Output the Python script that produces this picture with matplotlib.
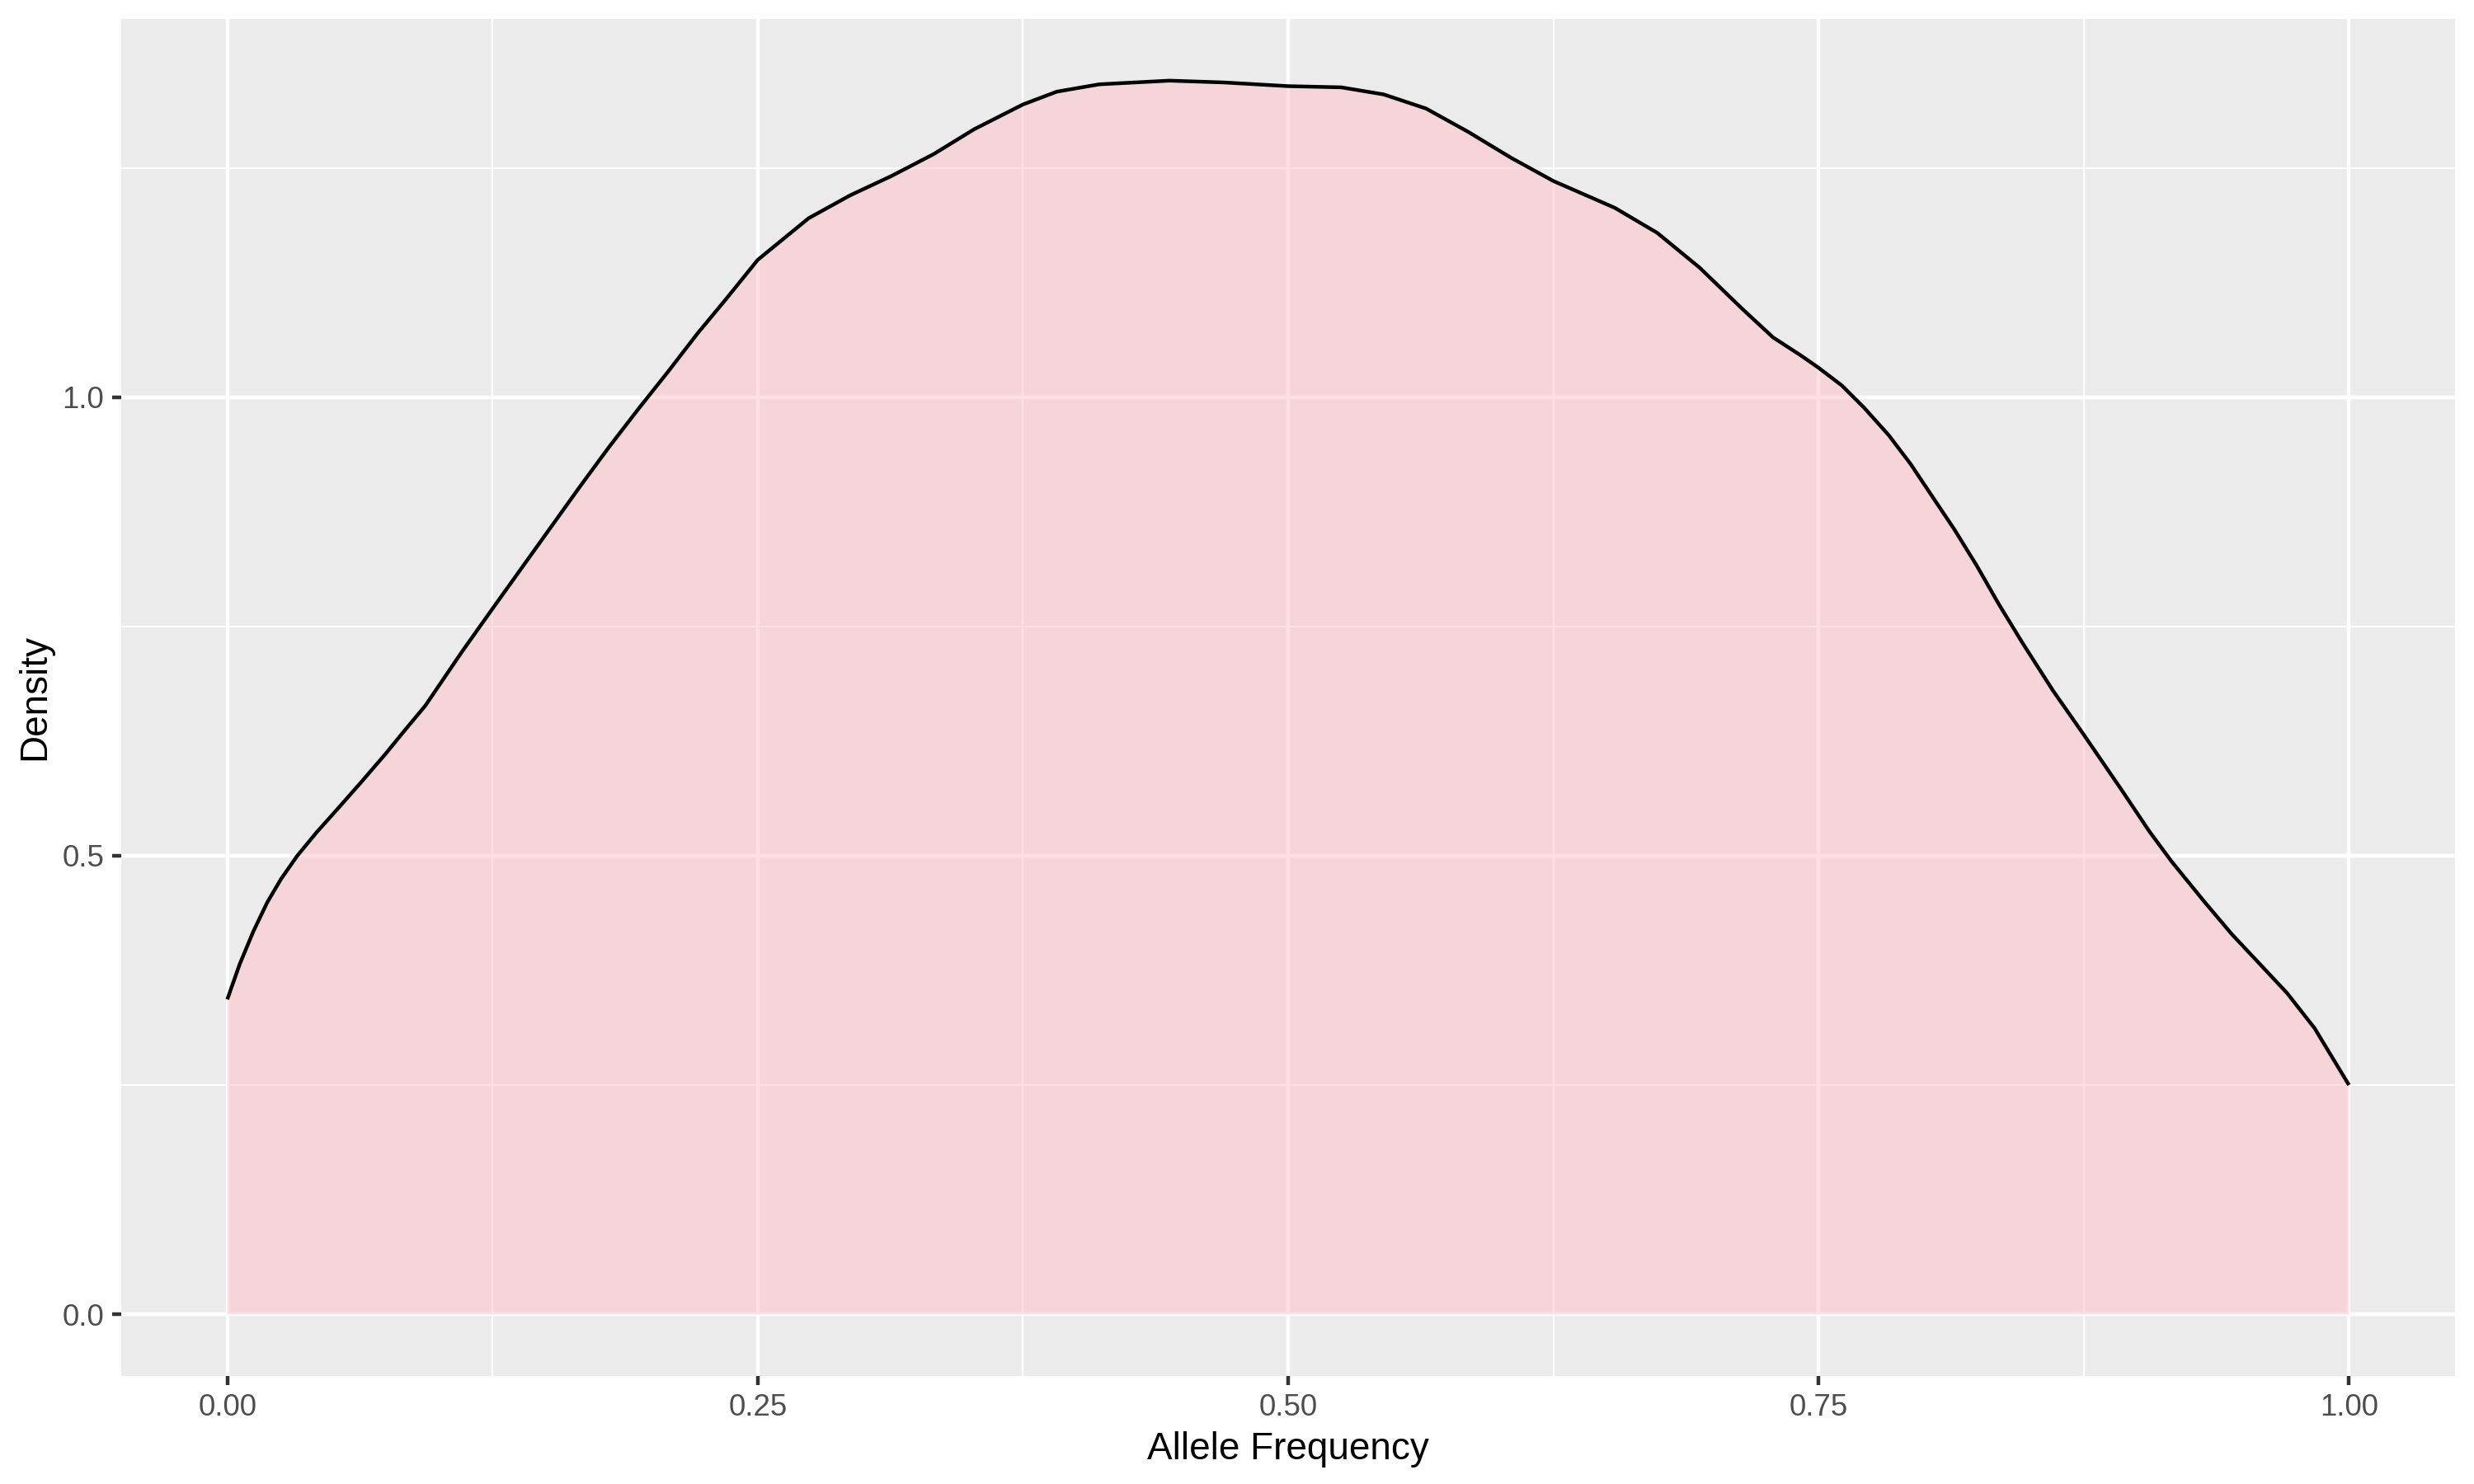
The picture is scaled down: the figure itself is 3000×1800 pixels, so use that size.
import matplotlib
matplotlib.use("Agg")
import matplotlib.pyplot as plt
import numpy as np

plt.rcParams['font.family'] = ['Liberation Sans', 'DejaVu Sans']

# Density curve
allele_freq = [0.0, 0.00583, 0.0123, 0.0188, 0.0253, 0.033, 0.0421, 0.0525, 0.0628, 0.0745,
               0.0835, 0.0933, 0.1107, 0.125, 0.1384, 0.1523, 0.1662, 0.18, 0.1939, 0.2077,
               0.2216, 0.2354, 0.25, 0.2576, 0.274, 0.2936, 0.313, 0.333, 0.352, 0.375,
               0.391, 0.411, 0.444, 0.47, 0.5, 0.525, 0.545, 0.565, 0.585, 0.605,
               0.625, 0.654, 0.674, 0.694, 0.714, 0.7286, 0.7416, 0.75, 0.761, 0.7714,
               0.783, 0.7934, 0.8038, 0.8141, 0.8245, 0.8349, 0.8462, 0.8605, 0.875, 0.8929,
               0.9059, 0.9163, 0.9319, 0.9448, 0.9578, 0.9708, 0.9838, 1.0]
density = [0.3434, 0.3817, 0.4176, 0.449, 0.4745, 0.5, 0.5255, 0.5524, 0.5794, 0.6108,
           0.6363, 0.6635, 0.7227, 0.7693, 0.8126, 0.8575, 0.9024, 0.9458, 0.9875, 1.0276,
           1.0693, 1.1078, 1.1496, 1.164, 1.195, 1.22, 1.241, 1.265, 1.292, 1.319,
           1.333, 1.341, 1.345, 1.343, 1.339, 1.3377, 1.33, 1.3146, 1.289, 1.261,
           1.2356, 1.2063, 1.179, 1.141, 1.0963, 1.065, 1.0455, 1.032, 1.0126, 0.9886,
           0.9587, 0.927, 0.891, 0.8554, 0.8165, 0.7745, 0.7317, 0.680, 0.632, 0.5715,
           0.5266, 0.494, 0.4497, 0.4144, 0.3824, 0.3503, 0.3119, 0.25]

x_ticks = [0.0, 0.25, 0.5, 0.75, 1.0]
x_tick_labels = ["0.00", "0.25", "0.50", "0.75", "1.00"]
x_minor = [0.125, 0.375, 0.625, 0.875]
y_ticks = [0.0, 0.5, 1.0]
y_tick_labels = ["0.0", "0.5", "1.0"]
y_minor = [0.25, 0.75, 1.25]

fig = plt.figure(figsize=(10, 6), dpi=300)
ax = fig.add_axes([147/3000, 131/1800, (2977-147)/3000, (1669-23)/1800])
ax.set_facecolor('#EBEBEB')
for s in ax.spines.values():
    s.set_visible(False)

x = np.array(allele_freq)
y = np.array(density)
ymax = y.max()
ax.set_xlim(-0.05, 1.05)
ax.set_ylim(-0.05*ymax, ymax*1.05)

ax.set_xticks(x_ticks)
ax.set_xticklabels(x_tick_labels)
ax.set_yticks(y_ticks)
ax.set_yticklabels(y_tick_labels)
ax.set_xticks(x_minor, minor=True)
ax.set_yticks(y_minor, minor=True)

ax.grid(which='major', color='white', linewidth=1.07)
ax.grid(which='minor', color='white', linewidth=0.53)
ax.set_axisbelow(True)

ax.tick_params(which='major', length=2.75, width=1.07, color='#333333',
               labelcolor='#4D4D4D', labelsize=8.8, pad=2.2)
ax.tick_params(which='minor', length=0)

ax.fill_between(x, 0, y, facecolor='#FFC0CB', alpha=0.5, linewidth=0, zorder=2)
ax.plot(x, y, color='black', linewidth=1.07, zorder=3, solid_capstyle='butt',
        solid_joinstyle='round')

ax.set_xlabel('Allele Frequency', fontsize=11, color='black', labelpad=2.75)
ax.set_ylabel('Density', fontsize=11, color='black', labelpad=2.75)

fig.savefig('out.png', dpi=300)
